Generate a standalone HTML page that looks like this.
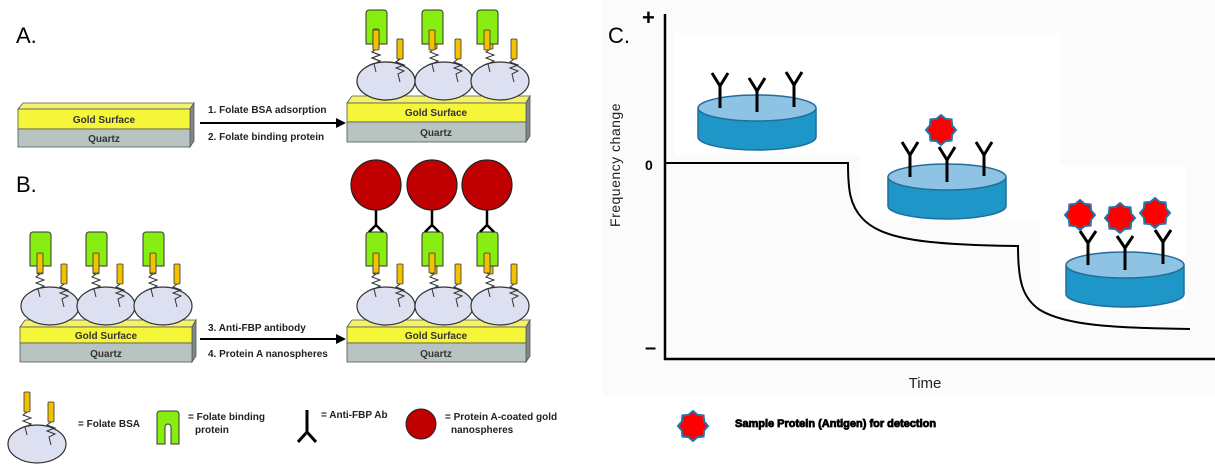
<!DOCTYPE html>
<html><head><meta charset="utf-8"><style>
html,body{margin:0;padding:0;background:#fff;}
svg{display:block;}
text{font-family:"Liberation Sans",Arial,sans-serif;}
.b{font-weight:bold;font-size:10px;fill:#222;}
.g{font-weight:bold;font-size:10px;fill:#333;text-anchor:middle;}
</style></head><body>
<svg width="1215" height="469" viewBox="0 0 1215 469" xmlns="http://www.w3.org/2000/svg">
<defs>
<g id="bsa">
 <ellipse cx="0" cy="0" rx="29" ry="19" fill="#dde0f0" stroke="#333" stroke-width="1.2"/>
 <path d="M-10,-32 l-4,3 l8,3 l-8,3 l8,3 l-6,3 l2,8" fill="none" stroke="#333" stroke-width="1"/>
 <path d="M14,-22 l-4,3 l8,3 l-8,3 l8,3 l-6,3 l2,8" fill="none" stroke="#333" stroke-width="1"/>
 <rect x="-13" y="-52" width="6" height="20" rx="1" fill="#f2c200" stroke="#333" stroke-width="0.8"/>
 <rect x="11" y="-42" width="6" height="20" rx="1" fill="#f2c200" stroke="#333" stroke-width="0.8"/>
</g>
<g id="fbp">
 <path d="M-10,-33 h21 v-31 a3,3 0 0 0 -3,-3 h-15 a3,3 0 0 0 -3,3 z" fill="#88ee11" stroke="#333" stroke-width="1"/>
</g>
<g id="ab">
 <path d="M0,0 v-15 M-9,-26 L0,-15 L9,-26" fill="none" stroke="#000" stroke-width="3"/>
</g>
<polygon id="star" points="0,-15 4.6,-11.1 10.6,-10.6 11.1,-4.6 15,0 11.1,4.6 10.6,10.6 4.6,11.1 0,15 -4.6,11.1 -10.6,10.6 -11.1,4.6 -15,0 -11.1,-4.6 -10.6,-10.6 -4.6,-11.1" fill="#ff0000" stroke="#2277aa" stroke-width="2"/>
</defs>

<!-- Panel labels -->
<text x="16" y="43" font-size="22" fill="#000">A.</text>
<text x="16" y="192" font-size="22" fill="#000">B.</text>

<!-- A left slab -->
<g id="slab1">
<polygon points="18,109 23,103 194,103 190,109" fill="#f3f36a" stroke="#555" stroke-width="0.8"/>
<polygon points="190,109 194,103 194,141 190,147" fill="#7d8a88" stroke="#555" stroke-width="0.8"/>
<rect x="18" y="109" width="172" height="20" fill="#f5f53a" stroke="#555" stroke-width="0.8"/>
<rect x="18" y="129" width="172" height="18" fill="#b7c4c1" stroke="#555" stroke-width="0.8"/>
<text class="g" x="104" y="123">Gold Surface</text>
<text class="g" x="104" y="142">Quartz</text>
</g>
<!-- A arrow -->
<line x1="200" y1="123" x2="336" y2="123" stroke="#000" stroke-width="2"/>
<polygon points="336,118 346,123 336,128" fill="#000"/>
<text class="b" x="208" y="113">1. Folate BSA adsorption</text>
<text class="b" x="208" y="140">2. Folate binding protein</text>
<!-- A right slab -->
<polygon points="347,103 352,96 530,96 526,103" fill="#f3f36a" stroke="#555" stroke-width="0.8"/>
<polygon points="526,103 530,96 530,136 526,142" fill="#7d8a88" stroke="#555" stroke-width="0.8"/>
<rect x="347" y="103" width="179" height="19" fill="#f5f53a" stroke="#555" stroke-width="0.8"/>
<rect x="347" y="122" width="179" height="20" fill="#b7c4c1" stroke="#555" stroke-width="0.8"/>
<text class="g" x="436" y="116">Gold Surface</text>
<text class="g" x="436" y="136">Quartz</text>
<use href="#bsa" x="386" y="81"/><use href="#bsa" x="444" y="81"/><use href="#bsa" x="500" y="81"/>
<use href="#fbp" x="376" y="77"/><use href="#fbp" x="432" y="77"/><use href="#fbp" x="487" y="77"/>
<use href="#bsa" x="386" y="81"/>
<g><rect x="373" y="30" width="6" height="20" rx="1" fill="#f2c200" stroke="#333" stroke-width="0.8"/><rect x="429" y="30" width="6" height="20" rx="1" fill="#f2c200" stroke="#333" stroke-width="0.8"/><rect x="484" y="30" width="6" height="20" rx="1" fill="#f2c200" stroke="#333" stroke-width="0.8"/></g>

<!-- B left slab -->
<polygon points="20,327 25,320 196,320 192,327" fill="#f3f36a" stroke="#555" stroke-width="0.8"/>
<polygon points="192,327 196,320 196,356 192,362" fill="#7d8a88" stroke="#555" stroke-width="0.8"/>
<rect x="20" y="327" width="172" height="16" fill="#f5f53a" stroke="#555" stroke-width="0.8"/>
<rect x="20" y="343" width="172" height="19" fill="#b7c4c1" stroke="#555" stroke-width="0.8"/>
<text class="g" x="106" y="339">Gold Surface</text>
<text class="g" x="106" y="357">Quartz</text>
<use href="#bsa" x="50" y="306"/><use href="#bsa" x="106" y="306"/><use href="#bsa" x="163" y="306"/>
<use href="#fbp" x="40" y="299"/><use href="#fbp" x="96" y="299"/><use href="#fbp" x="153" y="299"/>
<g fill="#f2c200" stroke="#333" stroke-width="0.8"><rect x="37" y="253" width="6" height="20" rx="1"/><rect x="93" y="253" width="6" height="20" rx="1"/><rect x="150" y="253" width="6" height="20" rx="1"/></g>
<!-- B arrow -->
<line x1="200" y1="339" x2="336" y2="339" stroke="#000" stroke-width="2"/>
<polygon points="336,334 346,339 336,344" fill="#000"/>
<text class="b" x="208" y="331">3. Anti-FBP antibody</text>
<text class="b" x="208" y="357">4. Protein A nanospheres</text>
<!-- B right slab -->
<polygon points="347,327 352,320 530,320 526,327" fill="#f3f36a" stroke="#555" stroke-width="0.8"/>
<polygon points="526,327 530,320 530,356 526,362" fill="#7d8a88" stroke="#555" stroke-width="0.8"/>
<rect x="347" y="327" width="179" height="16" fill="#f5f53a" stroke="#555" stroke-width="0.8"/>
<rect x="347" y="343" width="179" height="19" fill="#b7c4c1" stroke="#555" stroke-width="0.8"/>
<text class="g" x="436" y="339">Gold Surface</text>
<text class="g" x="436" y="357">Quartz</text>
<use href="#bsa" x="386" y="306"/><use href="#bsa" x="444" y="306"/><use href="#bsa" x="500" y="306"/>
<use href="#fbp" x="376" y="299"/><use href="#fbp" x="432" y="299"/><use href="#fbp" x="487" y="299"/>
<g fill="#f2c200" stroke="#333" stroke-width="0.8"><rect x="373" y="253" width="6" height="20" rx="1"/><rect x="429" y="253" width="6" height="20" rx="1"/><rect x="484" y="253" width="6" height="20" rx="1"/></g>
<g stroke="#000" stroke-width="2.5" fill="none">
<path d="M376,209 v16 M369,232 L376,225 L383,232"/>
<path d="M432,209 v16 M425,232 L432,225 L439,232"/>
<path d="M487,209 v16 M480,232 L487,225 L494,232"/>
</g>
<g fill="#c00000" stroke="#222" stroke-width="1.2">
<circle cx="376" cy="185" r="25"/><circle cx="432" cy="185" r="25"/><circle cx="487" cy="185" r="25"/>
</g>

<!-- Legend -->
<use href="#bsa" x="37" y="444"/>
<text class="b" x="78" y="427">= Folate BSA</text>
<path d="M157,444 h8 v-17 a3,3 0 0 1 6,0 v17 h8 v-30 a3,3 0 0 0 -3,-3 h-16 a3,3 0 0 0 -3,3 z" fill="#88ee11" stroke="#333" stroke-width="1"/>
<text class="b" x="188" y="420">= Folate binding</text>
<text class="b" x="195" y="433">protein</text>
<path d="M307,410 v22 M298,442 L307,432 L316,442" fill="none" stroke="#000" stroke-width="3"/>
<text class="b" x="321" y="418">= Anti-FBP Ab</text>
<circle cx="421" cy="424" r="15" fill="#c00000" stroke="#222" stroke-width="1"/>
<text class="b" x="445" y="420">= Protein A-coated gold</text>
<text class="b" x="451" y="433">nanospheres</text>

<!-- Panel C -->
<rect x="603" y="0" width="612" height="395" fill="#fbfbfb"/>
<rect x="675" y="33" width="385" height="122" fill="#fff"/>
<rect x="860" y="155" width="200" height="65" fill="#fff"/>
<rect x="1040" y="165" width="145" height="145" fill="#fff"/>
<text x="608" y="43" font-size="22" fill="#000">C.</text>
<text x="642" y="25" font-size="22" fill="#000" font-weight="bold">+</text>
<text x="645" y="170" font-size="14" fill="#000" font-weight="bold">0</text>
<text x="645" y="354" font-size="20" fill="#000" font-weight="bold">–</text>
<text transform="translate(620,165) rotate(-90)" font-size="14" fill="#222" text-anchor="middle" letter-spacing="0.5">Frequency change</text>
<text x="925" y="388" font-size="15" fill="#222" text-anchor="middle">Time</text>
<line x1="665" y1="14" x2="665" y2="360" stroke="#000" stroke-width="2.5"/>
<line x1="664" y1="359" x2="1215" y2="359" stroke="#000" stroke-width="2.5"/>
<path d="M665,163 H848 C848,190 850,205 862,218 C880,238 920,245 1018,246 C1018,280 1022,298 1040,310 C1065,325 1110,328 1190,329" fill="none" stroke="#000" stroke-width="2"/>

<!-- disks -->
<g stroke="#1f6d9c" stroke-width="1.5">
<path d="M698,108 v29 a59,13 0 0 0 118,0 v-29" fill="#1e96c8"/>
<ellipse cx="757" cy="108" rx="59" ry="13" fill="#8fc3e3"/>
<path d="M888,177 v29 a59,13 0 0 0 118,0 v-29" fill="#1e96c8"/>
<ellipse cx="947" cy="177" rx="59" ry="13" fill="#8fc3e3"/>
<path d="M1066,265 v29 a59,13 0 0 0 118,0 v-29" fill="#1e96c8"/>
<ellipse cx="1125" cy="265" rx="59" ry="13" fill="#8fc3e3"/>
</g>
<g fill="none" stroke="#000" stroke-width="3">
<path d="M720,108 v-22 M712,73 L720,86 L728,73"/>
<path d="M757,112 v-22 M749,78 L757,91 L765,78"/>
<path d="M794,107 v-22 M786,72 L794,85 L802,72"/>
<path d="M910,177 v-22 M902,142 L910,155 L918,142"/>
<path d="M947,182 v-22 M939,147 L947,160 L955,147"/>
<path d="M984,176 v-22 M976,142 L984,155 L992,142"/>
<path d="M1088,265 v-22 M1080,231 L1088,243 L1096,231"/>
<path d="M1125,270 v-22 M1117,236 L1125,248 L1133,236"/>
<path d="M1163,264 v-22 M1155,230 L1163,242 L1171,230"/>
</g>
<use href="#star" x="941" y="130"/>
<use href="#star" x="1080" y="215"/>
<use href="#star" x="1120" y="218"/>
<use href="#star" x="1155" y="213"/>
<use href="#star" x="693" y="426"/>
<text x="735" y="427" font-size="11" font-weight="bold" fill="#000" stroke="#000" stroke-width="0.8">Sample Protein (Antigen) for detection</text>
</svg>
</body></html>
